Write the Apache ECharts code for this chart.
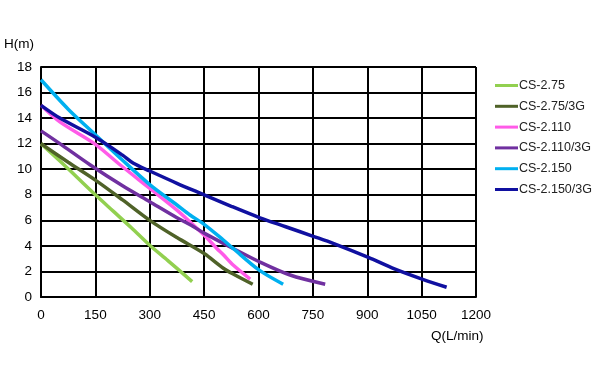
<!DOCTYPE html>
<html>
<head>
<meta charset="utf-8">
<script src="https://cdn.jsdelivr.net/npm/echarts@6/dist/echarts.min.js"></script>
<style>
html,body{margin:0;padding:0;background:#fff;}
#chart{width:605px;height:372px;}
</style>
</head>
<body>
<div id="chart"></div>
<script>
var seriesNames = ['CS-2.75', 'CS-2.75/3G', 'CS-2.110', 'CS-2.110/3G', 'CS-2.150', 'CS-2.150/3G'];
var seriesColors = ['#92D050', '#4F6228', '#FF5BE8', '#7030A0', '#00B0F0', '#1010A0'];
var xTicks = [0, 150, 300, 450, 600, 750, 900, 1050, 1200];
var yTicks = [0, 2, 4, 6, 8, 10, 12, 14, 16, 18];

var cs275 = [[0,12],[50,10.7],[100,9.35],[150,8.0],[200,6.7],[250,5.4],[300,4.05],[350,2.85],[417,1.2]];
var cs275_3g = [[0,12],[75,10.55],[150,9.15],[225,7.6],[300,6.0],[375,4.65],[450,3.4],[503,2.25],[530,1.8],[584,1.0]];
var cs2110 = [[0,15],[52,13.7],[150,11.95],[218,10.35],[300,8.5],[375,6.8],[430,5.37],[450,4.85],[485,3.8],[503,3.3],[530,2.5],[577,1.4]];
var cs2110_3g = [[0,13],[52,12.0],[135,10.35],[225,8.7],[300,7.45],[375,6.2],[413,5.63],[450,5.0],[530,3.8],[602,2.76],[687,1.72],[784,1.0]];
var cs2150 = [[0,17],[75,14.7],[150,12.7],[225,10.7],[300,8.8],[375,7.2],[411,6.42],[450,5.69],[503,4.46],[530,3.8],[602,2.1],[668,1.0]];
var cs2150_3g = [[0,15],[52,14],[150,12.5],[225,11.1],[255,10.46],[300,9.86],[375,8.9],[450,8.0],[525,7.1],[604,6.2],[675,5.5],[751,4.75],[806,4.2],[903,3.1],[975,2.2],[1053,1.38],[1119,0.76]];

var allData = [cs275, cs275_3g, cs2110, cs2110_3g, cs2150, cs2150_3g];

var chart = echarts.init(document.getElementById('chart'), null, {renderer: 'canvas'});
var font = 'Liberation Sans, Arial, sans-serif';

var series = seriesNames.map(function (n, i) {
  return {
    name: n,
    type: 'line',
    data: allData[i],
    smooth: 0.3,
    symbol: 'none',
    lineStyle: {color: seriesColors[i], width: 3.5},
    itemStyle: {color: seriesColors[i]},
    z: 3 + i
  };
});

chart.setOption({
  animation: false,
  backgroundColor: '#fff',
  grid: {left: 41, top: 67, right: 129, bottom: 75, containLabel: false},
  xAxis: {
    type: 'value',
    min: xTicks[0], max: xTicks[xTicks.length - 1], interval: 150,
    axisLine: {show: true, lineStyle: {color: '#000', width: 2}},
    axisTick: {show: false},
    splitLine: {show: true, lineStyle: {color: '#000', width: 2}},
    axisLabel: {color: '#000', fontFamily: font, fontSize: 13.5, margin: 11, showMaxLabel: true, showMinLabel: true,
      formatter: function (v) { return String(v); }}
  },
  yAxis: {
    type: 'value',
    min: yTicks[0], max: yTicks[yTicks.length - 1], interval: 2,
    axisLine: {show: true, lineStyle: {color: '#000', width: 2}},
    axisTick: {show: false},
    splitLine: {show: true, lineStyle: {color: '#000', width: 2}},
    axisLabel: {color: '#000', fontFamily: font, fontSize: 13.5, margin: 9,
      formatter: function (v) { return String(v); }}
  },
  legend: {
    orient: 'vertical',
    left: 495, top: 79,
    padding: 0,
    icon: 'rect',
    itemWidth: 23, itemHeight: 3,
    itemGap: 7.8,
    textStyle: {color: '#222', fontFamily: font, fontSize: 12.5, padding: [0, 0, 0, -4]},
    data: seriesNames
  },
  graphic: [
    {type: 'text', left: 4, top: 37, style: {text: 'H(m)', fill: '#000', font: '13.5px Liberation Sans, Arial, sans-serif'}},
    {type: 'text', left: 431, top: 329, style: {text: 'Q(L/min)', fill: '#000', font: '13.5px Liberation Sans, Arial, sans-serif'}}
  ],
  series: series
});
</script>
</body>
</html>
